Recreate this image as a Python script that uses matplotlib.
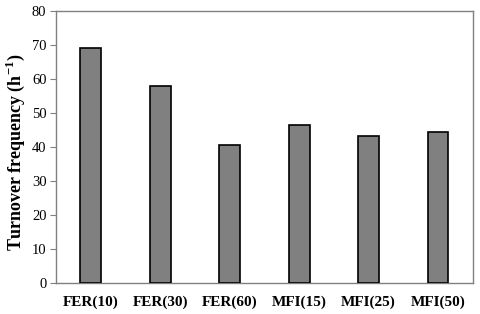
import matplotlib.pyplot as plt
import numpy as np

categories = ['FER(10)', 'FER(30)', 'FER(60)', 'MFI(15)', 'MFI(25)', 'MFI(50)']
turnover = [69.2, 57.9, 40.5, 46.6, 43.2, 44.3]
yticks = [0, 10, 20, 30, 40, 50, 60, 70, 80]

plt.rcParams['font.family'] = ['Liberation Serif', 'DejaVu Serif']
plt.rcParams['mathtext.fontset'] = 'custom'
plt.rcParams['mathtext.rm'] = 'Liberation Serif'
plt.rcParams['mathtext.bf'] = 'Liberation Serif:bold'

fig = plt.figure(figsize=(4.8, 3.14), dpi=100)
ax = fig.add_axes([0.117, 0.099, 0.868, 0.866])

x = np.arange(len(categories))
ax.bar(x, turnover, width=0.3, color='#808080', edgecolor='black', linewidth=1.2, zorder=3)

ax.set_xlim(-0.5, len(categories) - 0.5)
ax.set_ylim(0, 80)
ax.set_yticks(yticks)
ax.set_xticks(x)
ax.set_xticklabels(categories, fontweight='bold', fontsize=11)
ax.tick_params(axis='x', length=0, pad=9)
ax.tick_params(axis='y', length=4, color='#808080', labelsize=10.5, pad=3)
for s in ax.spines.values():
    s.set_color('#808080')
    s.set_linewidth(1.0)

ax.set_ylabel(r'Turnover frequency (h$^{\mathbf{-1}}$)', fontweight='bold', fontsize=13)
ax.yaxis.set_label_coords(-0.07, 0.48)

fig.savefig('out.png', dpi=100)
